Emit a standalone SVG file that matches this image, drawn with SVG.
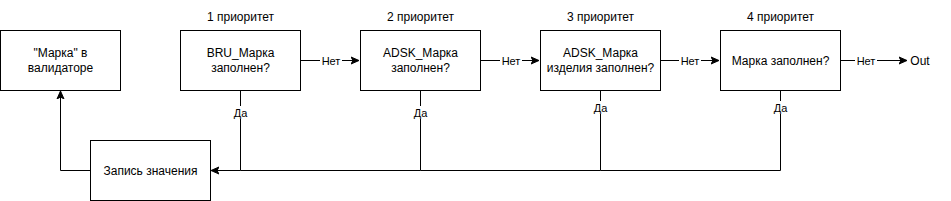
<svg xmlns="http://www.w3.org/2000/svg" width="951" height="201" viewBox="0 0 951 201">
<defs>
<style>
.box{fill:#fff;stroke:#000;stroke-width:1}
.t{font-family:"Liberation Sans",Arial,sans-serif;font-size:12px;fill:#000;text-anchor:middle}
.l{font-family:"Liberation Sans",Arial,sans-serif;font-size:11px;fill:#000;text-anchor:middle}
.e{fill:none;stroke:#000;stroke-width:1}
.bg{fill:#fff}
</style>
<marker id="a" markerWidth="10" markerHeight="10" refX="7" refY="5" orient="auto" markerUnits="userSpaceOnUse">
<path d="M0,1.5 L8,5 L0,8.5 L2,5 Z" fill="#000" stroke="#000" stroke-width="1"/>
</marker>
</defs>
<rect width="951" height="201" fill="#fff"/>
<g id="connectors">
<path class="e" d="M90.5,170.5 H60.5 V92" marker-end="url(#a)"/>
<path class="e" d="M240.5,90 V170.5 H212" marker-end="url(#a)"/>
<path class="e" d="M420.5,90 V170.5 H240.5"/>
<path class="e" d="M600.5,90 V170.5 H420.5"/>
<path class="e" d="M780.5,90 V170.5 H600.5"/>
<path class="e" d="M300,60.5 H358" marker-end="url(#a)"/>
<path class="e" d="M480,60.5 H538" marker-end="url(#a)"/>
<path class="e" d="M660,60.5 H718" marker-end="url(#a)"/>
<path class="e" d="M840,60.5 H906" marker-end="url(#a)"/>
<rect class="bg" x="320" y="54" width="22" height="13"/>
<text class="l" x="331" y="64.5">Нет</text>
<rect class="bg" x="500" y="54" width="22" height="13"/>
<text class="l" x="511" y="64.5">Нет</text>
<rect class="bg" x="679" y="54" width="22" height="13"/>
<text class="l" x="690" y="64.5">Нет</text>
<rect class="bg" x="855" y="54" width="22" height="13"/>
<text class="l" x="866" y="64.5">Нет</text>
<rect class="bg" x="231" y="106" width="19" height="13"/>
<text class="l" x="240.5" y="117">Да</text>
<rect class="bg" x="411" y="106" width="19" height="13"/>
<text class="l" x="420.5" y="117">Да</text>
<rect class="bg" x="591" y="101" width="19" height="13"/>
<text class="l" x="600.5" y="112">Да</text>
<rect class="bg" x="771" y="101" width="19" height="13"/>
<text class="l" x="780.5" y="112">Да</text>
</g>
<g id="out"><text class="t" x="920" y="64.5">Out</text></g>
<g id="validator">
<rect class="box" x="0.5" y="30.5" width="120" height="60"/>
<text class="t" x="60.5" y="57">"Марка" в</text>
<text class="t" x="60.5" y="72">валидаторе</text>
</g>
<g id="write">
<rect class="box" x="90.5" y="140.5" width="120" height="60"/>
<text class="t" x="150.5" y="174.5">Запись значения</text>
</g>
<g id="p1">
<text class="t" x="240.5" y="21">1 приоритет</text>
<rect class="box" x="180.5" y="30.5" width="120" height="60"/>
<text class="t" x="240.5" y="57">BRU_Марка</text>
<text class="t" x="240.5" y="72">заполнен?</text>
</g>
<g id="p2">
<text class="t" x="420.5" y="21">2 приоритет</text>
<rect class="box" x="360.5" y="30.5" width="120" height="60"/>
<text class="t" x="420.5" y="57">ADSK_Марка</text>
<text class="t" x="420.5" y="72">заполнен?</text>
</g>
<g id="p3">
<text class="t" x="600.5" y="21">3 приоритет</text>
<rect class="box" x="540.5" y="30.5" width="120" height="60"/>
<text class="t" x="600.5" y="57">ADSK_Марка</text>
<text class="t" x="600.5" y="72">изделия заполнен?</text>
</g>
<g id="p4">
<text class="t" x="780.5" y="21">4 приоритет</text>
<rect class="box" x="720.5" y="30.5" width="120" height="60"/>
<text class="t" x="780.5" y="64.5">Марка заполнен?</text>
</g>
</svg>
